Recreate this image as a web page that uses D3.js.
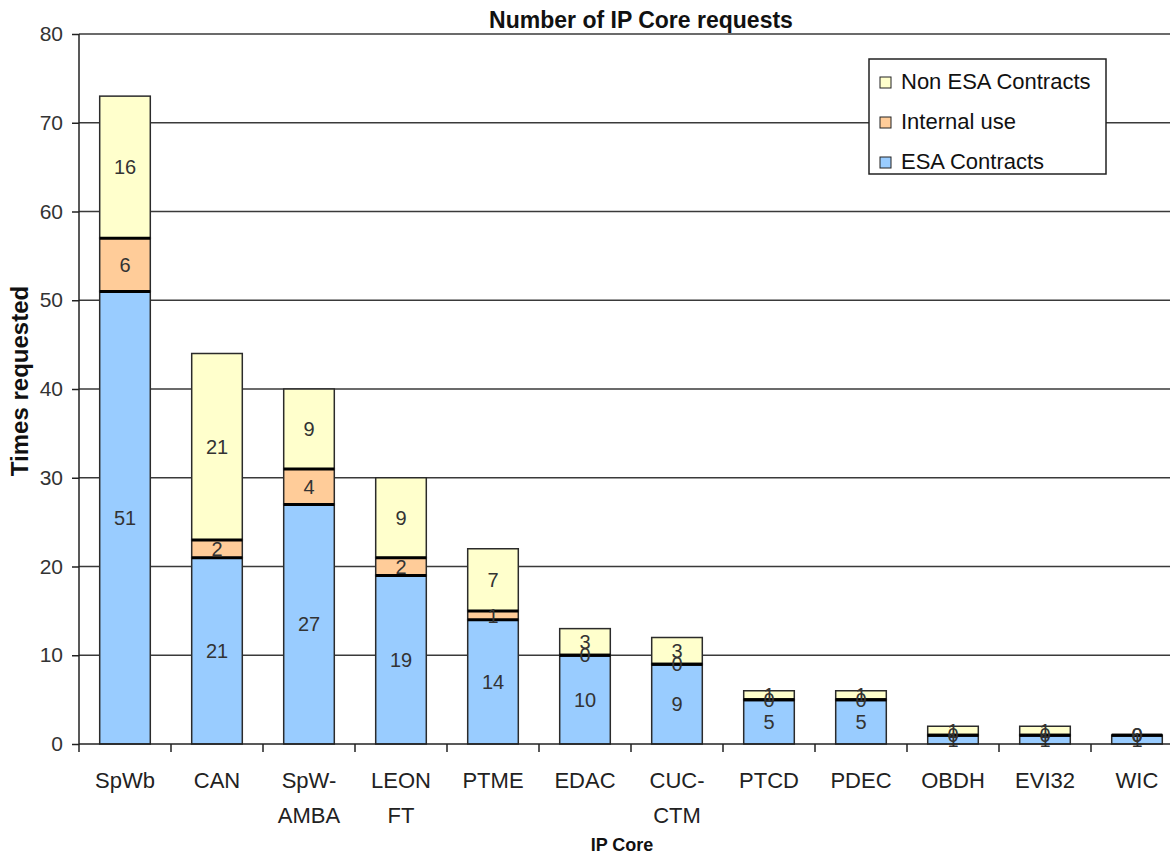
<!DOCTYPE html>
<html>
<head>
<meta charset="utf-8">
<script src="https://cdn.jsdelivr.net/npm/d3@7"></script>
<style>
  html, body { margin: 0; padding: 0; background: #fff; }
  svg { display: block; font-family: "Liberation Sans", Arial, Helvetica, sans-serif; }
</style>
</head>
<body>
<svg id="chart" width="1170" height="855"></svg>
<script>
// IP cores and the three request sources
const categories = ["SpWb", "CAN", "SpW-AMBA", "LEON FT", "PTME", "EDAC", "CUC-CTM", "PTCD", "PDEC", "OBDH", "EVI32", "WIC"];
const esaContracts = [51, 21, 27, 19, 14, 10, 9, 5, 5, 1, 1, 1];
const internalUse = [6, 2, 4, 2, 1, 0, 0, 0, 0, 0, 0, 0];
const nonEsaContracts = [16, 21, 9, 9, 7, 3, 3, 1, 1, 1, 1, 0];
const yTicks = [0, 10, 20, 30, 40, 50, 60, 70, 80];

const seriesNames = ["ESA Contracts", "Internal use", "Non ESA Contracts"];
const seriesColors = ["#99ccff", "#ffcc99", "#ffffcc"];

const rows = categories.map((c, i) => ({
  cat: c,
  "ESA Contracts": esaContracts[i],
  "Internal use": internalUse[i],
  "Non ESA Contracts": nonEsaContracts[i]
}));
const stacked = d3.stack().keys(seriesNames)(rows);

const svg = d3.select("#chart");
const plotLeft = 79, plotBottom = 744, plotTop = 34;
const step = 92;

const x = d3.scaleBand()
  .domain(categories)
  .range([plotLeft, plotLeft + step * categories.length])
  .paddingInner(0.45)
  .paddingOuter(0.225);
const y = d3.scaleLinear().domain([0, 80]).range([plotBottom, plotTop]);

// horizontal gridlines
svg.append("g").selectAll("line")
  .data(yTicks.filter(t => t > 0))
  .join("line")
  .attr("x1", plotLeft).attr("x2", 1170)
  .attr("y1", d => y(d)).attr("y2", d => y(d))
  .attr("stroke", "#3a3a3a").attr("stroke-width", 1.5);

// stacked bars
const layers = svg.append("g").selectAll("g")
  .data(stacked)
  .join("g")
  .attr("fill", (d, i) => seriesColors[i]);

layers.selectAll("rect")
  .data(d => d.map(v => ({ v, key: d.key })))
  .join("rect")
  .attr("x", d => x(d.v.data.cat))
  .attr("width", x.bandwidth())
  .attr("y", d => y(d.v[1]))
  .attr("height", d => y(d.v[0]) - y(d.v[1]))
  .attr("stroke", "#2b2b2b")
  .attr("stroke-width", 1.5);

// heavy separators around the internal-use segment
const internalLayer = stacked[1];
const sep = svg.append("g").attr("stroke", "#000").attr("stroke-width", 3);
internalLayer.forEach(v => {
  [v[0], v[1]].forEach(val => {
    sep.append("line")
      .attr("x1", x(v.data.cat)).attr("x2", x(v.data.cat) + x.bandwidth())
      .attr("y1", y(val)).attr("y2", y(val));
  });
});

// value labels centred in each segment
const labels = svg.append("g")
  .attr("font-size", 20).attr("fill", "#333").attr("text-anchor", "middle");
stacked.forEach(layer => {
  layer.forEach(v => {
    labels.append("text")
      .attr("x", x(v.data.cat) + x.bandwidth() / 2)
      .attr("y", y((v[0] + v[1]) / 2))
      .attr("dy", "0.36em")
      .text(v[1] - v[0]);
  });
});

// y axis
const yAxis = d3.axisLeft(y).tickValues(yTicks).tickSize(7).tickPadding(9);
const gy = svg.append("g").attr("transform", `translate(${plotLeft},0)`).call(yAxis);
gy.select(".domain").attr("stroke", "#222").attr("stroke-width", 1.5).attr("d", `M0,${plotTop}V${plotBottom}`);
gy.selectAll(".tick line").attr("stroke", "#222").attr("stroke-width", 1.5);
gy.selectAll(".tick text").attr("font-size", 21).attr("fill", "#333")
  .attr("font-family", "'Liberation Sans', Arial, sans-serif");

// x axis
const xAxis = d3.axisBottom(x).tickSize(0).tickFormat("");
const gx = svg.append("g").attr("transform", `translate(0,${plotBottom})`).call(xAxis);
gx.select(".domain").attr("stroke", "#222").attr("stroke-width", 1.5)
  .attr("d", `M${plotLeft},0H1170`);
gx.selectAll(".tick").remove();
gx.selectAll("line.sep")
  .data(d3.range(categories.length + 1))
  .join("line")
  .attr("class", "sep")
  .attr("x1", i => x.step() * i + plotLeft).attr("x2", i => x.step() * i + plotLeft)
  .attr("y1", 0).attr("y2", 8)
  .attr("stroke", "#222").attr("stroke-width", 1.5);

// category labels (split on hyphen / space)
const catLines = {
  "SpW-AMBA": ["SpW-", "AMBA"],
  "LEON FT": ["LEON", "FT"],
  "CUC-CTM": ["CUC-", "CTM"]
};
const catLabels = svg.append("g").attr("font-size", 22).attr("fill", "#222").attr("text-anchor", "middle");
categories.forEach(c => {
  const lines = catLines[c] || [c];
  const t = catLabels.append("text").attr("x", x(c) + x.bandwidth() / 2).attr("y", 788);
  lines.forEach((ln, k) => {
    t.append("tspan").attr("x", x(c) + x.bandwidth() / 2).attr("y", 788 + k * 35).text(ln);
  });
});

// titles
svg.append("text").attr("x", 641).attr("y", 28)
  .attr("text-anchor", "middle").attr("font-size", 23).attr("font-weight", "bold")
  .attr("fill", "#111").text("Number of IP Core requests");
svg.append("text").attr("x", 622).attr("y", 851)
  .attr("text-anchor", "middle").attr("font-size", 18).attr("font-weight", "bold")
  .attr("fill", "#111").text("IP Core");
svg.append("text")
  .attr("transform", "translate(28,381) rotate(-90)")
  .attr("text-anchor", "middle").attr("font-size", 24).attr("font-weight", "bold")
  .attr("fill", "#111").text("Times requested");

// legend
const lg = svg.append("g");
lg.append("rect").attr("x", 869).attr("y", 59).attr("width", 237).attr("height", 115)
  .attr("fill", "#fff").attr("stroke", "#222").attr("stroke-width", 1.5);
const legendOrder = [2, 1, 0];
legendOrder.forEach((si, k) => {
  const cy = 83 + k * 40;
  lg.append("rect").attr("x", 880).attr("y", cy - 6).attr("width", 11).attr("height", 11)
    .attr("fill", seriesColors[si]).attr("stroke", "#222").attr("stroke-width", 1);
  lg.append("text").attr("x", 901).attr("y", cy + 6).attr("font-size", 22)
    .attr("fill", "#111").text(seriesNames[si]);
});
</script>
</body>
</html>
